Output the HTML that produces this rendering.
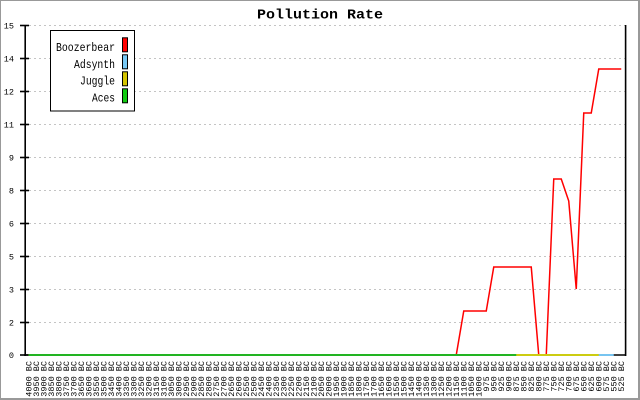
<!DOCTYPE html>
<html>
<head>
<meta charset="utf-8">
<style>
html,body{margin:0;padding:0;background:#fff;}
svg{display:block;}
text{font-family:"Liberation Mono","DejaVu Sans Mono",monospace;fill:#000;}
.xl{font-size:8.5px;}
.yl{font-size:8.5px;}
</style>
</head>
<body>
<svg width="640" height="400" viewBox="0 0 640 400" xmlns="http://www.w3.org/2000/svg">
<rect x="0" y="0" width="640" height="400" fill="#fff"/>
<!-- outer border -->
<rect x="0" y="0" width="640" height="1" fill="#999"/>
<rect x="0" y="0" width="1" height="400" fill="#999"/>
<rect x="638" y="0" width="2" height="400" fill="#999"/>
<rect x="0" y="398" width="640" height="2" fill="#999"/>

<!-- title -->
<text x="257" y="18.5" font-size="14" font-weight="bold" textLength="126" lengthAdjust="spacingAndGlyphs">Pollution Rate</text>

<!-- gridlines -->
<g stroke="#c4c4c4" stroke-width="1" stroke-dasharray="2,3">
<line x1="29" y1="25.5" x2="625" y2="25.5"/>
<line x1="29" y1="58.5" x2="625" y2="58.5"/>
<line x1="29" y1="91.5" x2="625" y2="91.5"/>
<line x1="29" y1="124.5" x2="625" y2="124.5"/>
<line x1="29" y1="157.5" x2="625" y2="157.5"/>
<line x1="29" y1="190.5" x2="625" y2="190.5"/>
<line x1="29" y1="223.5" x2="625" y2="223.5"/>
<line x1="29" y1="256.5" x2="625" y2="256.5"/>
<line x1="29" y1="289.5" x2="625" y2="289.5"/>
<line x1="29" y1="322.5" x2="625" y2="322.5"/>
</g>

<!-- axes -->
<g stroke="#000" stroke-width="1.6">
<line x1="25.2" y1="25" x2="25.2" y2="356"/>
<line x1="625.6" y1="25" x2="625.6" y2="356"/>
<line x1="24" y1="355" x2="626" y2="355"/>
<line x1="20" y1="25.5" x2="29" y2="25.5"/>
<line x1="20" y1="58.5" x2="29" y2="58.5"/>
<line x1="20" y1="91.5" x2="29" y2="91.5"/>
<line x1="20" y1="124.5" x2="29" y2="124.5"/>
<line x1="20" y1="157.5" x2="29" y2="157.5"/>
<line x1="20" y1="190.5" x2="29" y2="190.5"/>
<line x1="20" y1="223.5" x2="29" y2="223.5"/>
<line x1="20" y1="256.5" x2="29" y2="256.5"/>
<line x1="20" y1="289.5" x2="29" y2="289.5"/>
<line x1="20" y1="322.5" x2="29" y2="322.5"/>
<line x1="20" y1="355" x2="29" y2="355"/>
</g>

<!-- y labels -->
<g class="yl" text-anchor="end">
<text x="14" y="28.5">15</text>
<text x="14" y="61.5">14</text>
<text x="14" y="94.5">12</text>
<text x="14" y="127.5">11</text>
<text x="14" y="160.5">9</text>
<text x="14" y="193.5">8</text>
<text x="14" y="226.5">6</text>
<text x="14" y="259.5">5</text>
<text x="14" y="292.5">3</text>
<text x="14" y="325.5">2</text>
<text x="14" y="358">0</text>
</g>

<!-- series: red (Boozerbear) -->
<polyline fill="none" stroke="#ff0000" stroke-width="1.5" stroke-linejoin="miter"
points="28.75,355 456.25,355 463.75,311 486.25,311 493.75,267 531.25,267 538.75,355 546.25,355 553.75,179 561.25,179 568.75,201 576.25,289 583.75,113 591.25,113 598.75,69 621.25,69"/>
<!-- blue (Adsynth) -->
<rect x="28.75" y="354" width="585" height="2" fill="#77c4f0"/>
<!-- yellow (Juggle) -->
<rect x="28.75" y="354" width="570" height="2" fill="#cccc11"/>
<!-- green (Aces) -->
<rect x="28.75" y="354" width="487.5" height="2" fill="#22b422"/>

<!-- legend -->
<rect x="50.5" y="30.5" width="84" height="80.5" fill="#fff" stroke="#000" stroke-width="1"/>
<text x="56" y="51" font-size="12" textLength="59" lengthAdjust="spacingAndGlyphs">Boozerbear</text>
<text x="74" y="67.8" font-size="12" textLength="41" lengthAdjust="spacingAndGlyphs">Adsynth</text>
<text x="80" y="84.5" font-size="12" textLength="35" lengthAdjust="spacingAndGlyphs">Juggle</text>
<text x="92" y="101.5" font-size="12" textLength="23" lengthAdjust="spacingAndGlyphs">Aces</text>
<rect x="122.5" y="37.8" width="5" height="14" fill="#ff0000" stroke="#000" stroke-width="1"/>
<rect x="122.5" y="54.8" width="5" height="14" fill="#77c8f4" stroke="#000" stroke-width="1"/>
<rect x="122.5" y="71.8" width="5" height="14" fill="#d4c400" stroke="#000" stroke-width="1"/>
<rect x="122.5" y="88.8" width="5" height="14" fill="#11cc11" stroke="#000" stroke-width="1"/>

<!-- x labels -->
<g class="xl" text-anchor="end">
<text transform="translate(31.25,361) rotate(-90)">4000 BC</text>
<text transform="translate(38.75,361) rotate(-90)">3950 BC</text>
<text transform="translate(46.25,361) rotate(-90)">3900 BC</text>
<text transform="translate(53.75,361) rotate(-90)">3850 BC</text>
<text transform="translate(61.25,361) rotate(-90)">3800 BC</text>
<text transform="translate(68.75,361) rotate(-90)">3750 BC</text>
<text transform="translate(76.25,361) rotate(-90)">3700 BC</text>
<text transform="translate(83.75,361) rotate(-90)">3650 BC</text>
<text transform="translate(91.25,361) rotate(-90)">3600 BC</text>
<text transform="translate(98.75,361) rotate(-90)">3550 BC</text>
<text transform="translate(106.25,361) rotate(-90)">3500 BC</text>
<text transform="translate(113.75,361) rotate(-90)">3450 BC</text>
<text transform="translate(121.25,361) rotate(-90)">3400 BC</text>
<text transform="translate(128.75,361) rotate(-90)">3350 BC</text>
<text transform="translate(136.25,361) rotate(-90)">3300 BC</text>
<text transform="translate(143.75,361) rotate(-90)">3250 BC</text>
<text transform="translate(151.25,361) rotate(-90)">3200 BC</text>
<text transform="translate(158.75,361) rotate(-90)">3150 BC</text>
<text transform="translate(166.25,361) rotate(-90)">3100 BC</text>
<text transform="translate(173.75,361) rotate(-90)">3050 BC</text>
<text transform="translate(181.25,361) rotate(-90)">3000 BC</text>
<text transform="translate(188.75,361) rotate(-90)">2950 BC</text>
<text transform="translate(196.25,361) rotate(-90)">2900 BC</text>
<text transform="translate(203.75,361) rotate(-90)">2850 BC</text>
<text transform="translate(211.25,361) rotate(-90)">2800 BC</text>
<text transform="translate(218.75,361) rotate(-90)">2750 BC</text>
<text transform="translate(226.25,361) rotate(-90)">2700 BC</text>
<text transform="translate(233.75,361) rotate(-90)">2650 BC</text>
<text transform="translate(241.25,361) rotate(-90)">2600 BC</text>
<text transform="translate(248.75,361) rotate(-90)">2550 BC</text>
<text transform="translate(256.25,361) rotate(-90)">2500 BC</text>
<text transform="translate(263.75,361) rotate(-90)">2450 BC</text>
<text transform="translate(271.25,361) rotate(-90)">2400 BC</text>
<text transform="translate(278.75,361) rotate(-90)">2350 BC</text>
<text transform="translate(286.25,361) rotate(-90)">2300 BC</text>
<text transform="translate(293.75,361) rotate(-90)">2250 BC</text>
<text transform="translate(301.25,361) rotate(-90)">2200 BC</text>
<text transform="translate(308.75,361) rotate(-90)">2150 BC</text>
<text transform="translate(316.25,361) rotate(-90)">2100 BC</text>
<text transform="translate(323.75,361) rotate(-90)">2050 BC</text>
<text transform="translate(331.25,361) rotate(-90)">2000 BC</text>
<text transform="translate(338.75,361) rotate(-90)">1950 BC</text>
<text transform="translate(346.25,361) rotate(-90)">1900 BC</text>
<text transform="translate(353.75,361) rotate(-90)">1850 BC</text>
<text transform="translate(361.25,361) rotate(-90)">1800 BC</text>
<text transform="translate(368.75,361) rotate(-90)">1750 BC</text>
<text transform="translate(376.25,361) rotate(-90)">1700 BC</text>
<text transform="translate(383.75,361) rotate(-90)">1650 BC</text>
<text transform="translate(391.25,361) rotate(-90)">1600 BC</text>
<text transform="translate(398.75,361) rotate(-90)">1550 BC</text>
<text transform="translate(406.25,361) rotate(-90)">1500 BC</text>
<text transform="translate(413.75,361) rotate(-90)">1450 BC</text>
<text transform="translate(421.25,361) rotate(-90)">1400 BC</text>
<text transform="translate(428.75,361) rotate(-90)">1350 BC</text>
<text transform="translate(436.25,361) rotate(-90)">1300 BC</text>
<text transform="translate(443.75,361) rotate(-90)">1250 BC</text>
<text transform="translate(451.25,361) rotate(-90)">1200 BC</text>
<text transform="translate(458.75,361) rotate(-90)">1150 BC</text>
<text transform="translate(466.25,361) rotate(-90)">1100 BC</text>
<text transform="translate(473.75,361) rotate(-90)">1050 BC</text>
<text transform="translate(481.25,361) rotate(-90)">1000 BC</text>
<text transform="translate(488.75,361) rotate(-90)">975 BC</text>
<text transform="translate(496.25,361) rotate(-90)">950 BC</text>
<text transform="translate(503.75,361) rotate(-90)">925 BC</text>
<text transform="translate(511.25,361) rotate(-90)">900 BC</text>
<text transform="translate(518.75,361) rotate(-90)">875 BC</text>
<text transform="translate(526.25,361) rotate(-90)">850 BC</text>
<text transform="translate(533.75,361) rotate(-90)">825 BC</text>
<text transform="translate(541.25,361) rotate(-90)">800 BC</text>
<text transform="translate(548.75,361) rotate(-90)">775 BC</text>
<text transform="translate(556.25,361) rotate(-90)">750 BC</text>
<text transform="translate(563.75,361) rotate(-90)">725 BC</text>
<text transform="translate(571.25,361) rotate(-90)">700 BC</text>
<text transform="translate(578.75,361) rotate(-90)">675 BC</text>
<text transform="translate(586.25,361) rotate(-90)">650 BC</text>
<text transform="translate(593.75,361) rotate(-90)">625 BC</text>
<text transform="translate(601.25,361) rotate(-90)">600 BC</text>
<text transform="translate(608.75,361) rotate(-90)">575 BC</text>
<text transform="translate(616.25,361) rotate(-90)">550 BC</text>
<text transform="translate(623.75,361) rotate(-90)">525 BC</text>
</g>
</svg>
</body>
</html>
